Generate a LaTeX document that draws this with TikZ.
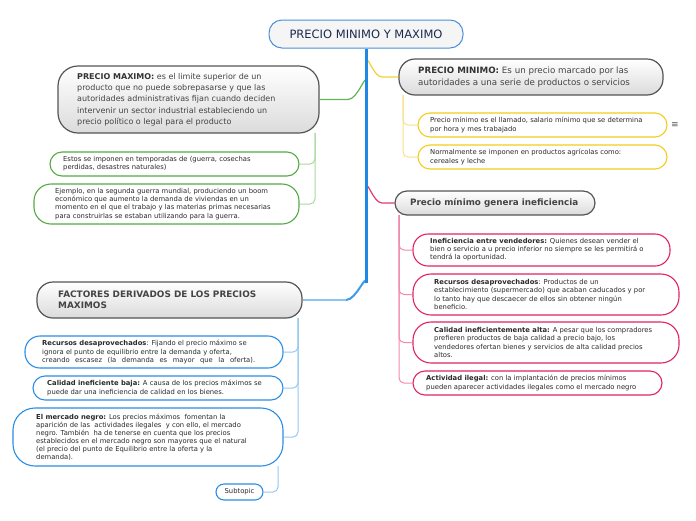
\documentclass[tikz,border=0pt]{standalone}
\usepackage{fontspec}
\setmainfont{DejaVu Sans}
\usetikzlibrary{calc}
\definecolor{rootbd}{HTML}{4A90D9}
\definecolor{roottx}{HTML}{1B2A4E}
\definecolor{trunkc}{HTML}{1E88E5}
\definecolor{trunkl}{HTML}{8CC4F2}
\definecolor{gbd}{HTML}{555555}
\definecolor{gtx}{HTML}{444444}
\definecolor{ctx}{HTML}{2A2A2A}
\definecolor{grn}{HTML}{55A944}
\definecolor{grnl}{HTML}{A9D89E}
\definecolor{ylw}{HTML}{F2CD1E}
\definecolor{ylwl}{HTML}{F6E18C}
\definecolor{pnk}{HTML}{E0245E}
\definecolor{pnkl}{HTML}{F28BAE}
\definecolor{blu}{HTML}{2A8EE6}
\definecolor{blul}{HTML}{95C9F2}
\begin{document}
\begin{tikzpicture}[x=1pt,y=-1pt,
  gbox/.style={draw=gbd, line width=1.2pt, top color=white, bottom color=black!14, inner sep=0pt},
  cbox/.style={fill=white, line width=1.1pt, inner sep=0pt},
  btxt/.style={anchor=west, align=left, inner sep=0pt, font=\fontsize{8}{11.3}\selectfont, text=gtx},
  ctxt/.style={anchor=west, align=left, inner sep=0pt, font=\fontsize{6.8}{8.1}\selectfont, text=ctx},
  conn/.style={line width=1pt, rounded corners=5pt},
  br/.style={line width=1.2pt}]
\useasboundingbox[fill=white] (0,0) rectangle (696,520);

% root
\node[draw=rootbd, line width=1pt, fill=black!4, rounded corners=13pt, minimum width=194pt, minimum height=28pt, inner sep=0pt,
  text=roottx, font=\fontsize{11.5}{13}\selectfont] (root) at (366,34) {PRECIO MINIMO Y MAXIMO};

% main gray nodes
\node[gbox, minimum width=261pt, minimum height=67pt, rounded corners=20pt] (pmax) at (188.5,99.5) {};
\node[btxt] (pmaxT) at (77,99.5) {\textbf{\color{black!80}PRECIO MAXIMO:} es el limite superior de un\\ producto que no puede sobrepasarse y que las\\ autoridades administrativas fijan cuando deciden\\ intervenir un sector industrial estableciendo un\\ precio político o legal para el producto};

\node[gbox, minimum width=264pt, minimum height=36pt, rounded corners=16pt] (pmin) at (531,77) {};
\node[btxt, font=\fontsize{8.7}{11.3}\selectfont] (pminT) at (418,77) {\textbf{\color{black!80}PRECIO MINIMO:} Es un precio marcado por las\\ autoridades a una serie de productos o servicios};

\node[gbox, minimum width=200pt, minimum height=24pt, rounded corners=12pt] (pgen) at (495,203) {};
\node[btxt, font=\bfseries\fontsize{8.8}{11}\selectfont] (pgenT) at (410,203) {Precio mínimo genera ineficiencia};

\node[gbox, minimum width=265pt, minimum height=36pt, rounded corners=16pt] (fact) at (169.5,300) {};
\node[btxt, font=\bfseries\fontsize{8.9}{11.5}\selectfont] (factT) at (58,300) {FACTORES DERIVADOS DE LOS PRECIOS\\ MAXIMOS};

% green children
\node[cbox, draw=grn, minimum width=249pt, minimum height=24pt, rounded corners=12pt] (gc1) at (174.5,164) {};
\node[ctxt] (gc1T) at (63,164) {Estos se imponen en temporadas de (guerra, cosechas\\ perdidas, desastres naturales)};
\node[cbox, draw=grn, minimum width=265pt, minimum height=40pt, rounded corners=17pt] (gc2) at (166.5,204) {};
\node[ctxt] (gc2T) at (55,204) {Ejemplo, en la segunda guerra mundial, produciendo un boom\\ económico que aumento la demanda de viviendas en un\\ momento en el que el trabajo y las materias primas necesarias\\ para construirlas se estaban utilizando para la guerra.};

% yellow children
\node[cbox, draw=ylw, minimum width=249pt, minimum height=24pt, rounded corners=12pt] (yc1) at (542.5,125) {};
\node[ctxt] (yc1T) at (430,125) {Precio mínimo es el llamado, salario mínimo que se determina\\ por hora y mes trabajado};
\node[cbox, draw=ylw, minimum width=249pt, minimum height=24pt, rounded corners=12pt] (yc2) at (542.5,157) {};
\node[ctxt] (yc2T) at (430,157) {Normalmente se imponen en productos agrícolas como:\\ cereales y leche};
\node[text=gbd, font=\fontsize{9}{10}\selectfont, inner sep=0pt] (menu) at (675,125) {≡};

% pink children
\node[cbox, draw=pnk, minimum width=257pt, minimum height=32pt, rounded corners=15pt] (pk1) at (541.5,250) {};
\node[ctxt] (pk1T) at (430,250) {\textbf{Ineficiencia entre vendedores:} Quienes desean vender el\\ bien o servicio a u precio inferior no siempre se les permitirá o\\ tendrá la oportunidad.};
\node[cbox, draw=pnk, minimum width=266pt, minimum height=41pt, rounded corners=18pt] (pk2) at (546,294.5) {};
\node[ctxt] (pk2T) at (434,294.5) {\textbf{Recursos desaprovechados}: Productos de un\\ establecimiento (supermercado) que acaban caducados y por\\ lo tanto hay que descaecer de ellos sin obtener ningún\\ beneficio.};
\node[cbox, draw=pnk, minimum width=266pt, minimum height=41pt, rounded corners=18pt] (pk3) at (546,342.5) {};
\node[ctxt] (pk3T) at (434,342.5) {\textbf{Calidad ineficientemente alta:} A pesar que los compradores\\ prefieren productos de baja calidad a precio bajo, los\\ vendedores ofertan bienes y servicios de alta calidad precios\\ altos.};
\node[cbox, draw=pnk, minimum width=249pt, minimum height=24pt, rounded corners=12pt] (pk4) at (537.5,383) {};
\node[ctxt] (pk4T) at (426,383) {\textbf{Actividad ilegal:} con la implantación de precios mínimos\\ pueden aparecer actividades ilegales como el mercado negro};

% blue children
\node[cbox, draw=blu, minimum width=258pt, minimum height=32pt, rounded corners=15pt] (bc1) at (154,352) {};
\node[ctxt] (bc1T) at (42,352) {\textbf{Recursos desaprovechados}: Fijando el precio máximo se\\ ignora el punto de equilibrio entre la demanda y oferta,\\ \makebox[213pt][s]{creando escasez (la demanda es mayor que la oferta).}};
\node[cbox, draw=blu, minimum width=250pt, minimum height=24pt, rounded corners=12pt] (bc2) at (158,388) {};
\node[ctxt] (bc2T) at (47,388) {\textbf{Calidad ineficiente baja:} A causa de los precios máximos se\\ puede dar una ineficiencia de calidad en los bienes.};
\node[cbox, draw=blu, minimum width=270pt, minimum height=58pt, rounded corners=22pt] (bc3) at (148,437) {};
\node[ctxt] (bc3T) at (36,437) {\textbf{El mercado negro:} Los precios máximos\ \ fomentan la\\ aparición de las\ \ actividades ilegales\ \ y con ello, el mercado\\ negro. También\ \ ha de tenerse en cuenta que los precios\\ establecidos en el mercado negro son mayores que el natural\\ (el precio del punto de Equilibrio entre la oferta y la\\ demanda).};
\node[cbox, draw=blu, minimum width=47pt, minimum height=16pt, rounded corners=8pt, text=ctx, font=\fontsize{6.8}{8}\selectfont] (sub) at (239.5,492) {Subtopic};

% trunk and main branches
\coordinate (tb) at (366,283);
\coordinate (tc) at (346,300);
\draw[trunkc!70!trunkl, line width=2pt] (tb) to[out=90,in=0] (tc);
\draw[trunkl, line width=1.2pt] (tc) -- (fact.east);

\coordinate (gt) at (366,82);
\coordinate (gh) at (348,99.5);
\draw[br, grn!80!grnl] (gt) to[out=90,in=0] (gh) -- (pmax.east);
\coordinate (yt) at (367,62);
\coordinate (yh) at (382,77);
\draw[br, ylw!80!ylwl] (yt) to[out=90,in=180] (yh) -- (pmin.west);
\coordinate (pt) at (367,188);
\coordinate (ph) at (382,203);
\draw[br, pnk!80!pnkl] (pt) to[out=90,in=180] (ph) -- (pgen.west);
\draw[trunkc, line width=3pt] (root.south) -- (tb);

% child stems
\coordinate (gs) at (315,133);
\draw[conn, grnl] (gs) |- (gc1.east);
\draw[conn, grnl] (gs) |- (gc2.east);
\coordinate (ys) at (403,95);
\draw[conn, ylwl] (ys) |- (yc1.west);
\draw[conn, ylwl] (ys) |- (yc2.west);
\coordinate (ps) at (399,215);
\draw[conn, pnkl] (ps) |- (pk1.west);
\draw[conn, pnkl] (ps) |- (pk2.west);
\draw[conn, pnkl] (ps) |- (pk3.west);
\draw[conn, pnkl] (ps) |- (pk4.west);
\coordinate (bs) at (298,318);
\draw[conn, blul] (bs) |- (bc1.east);
\draw[conn, blul] (bs) |- (bc2.east);
\draw[conn, blul] (bs) |- (bc3.east);
\coordinate (ss) at (278,466);
\draw[conn, blul] (ss) |- (sub.east);
\end{tikzpicture}
\end{document}
